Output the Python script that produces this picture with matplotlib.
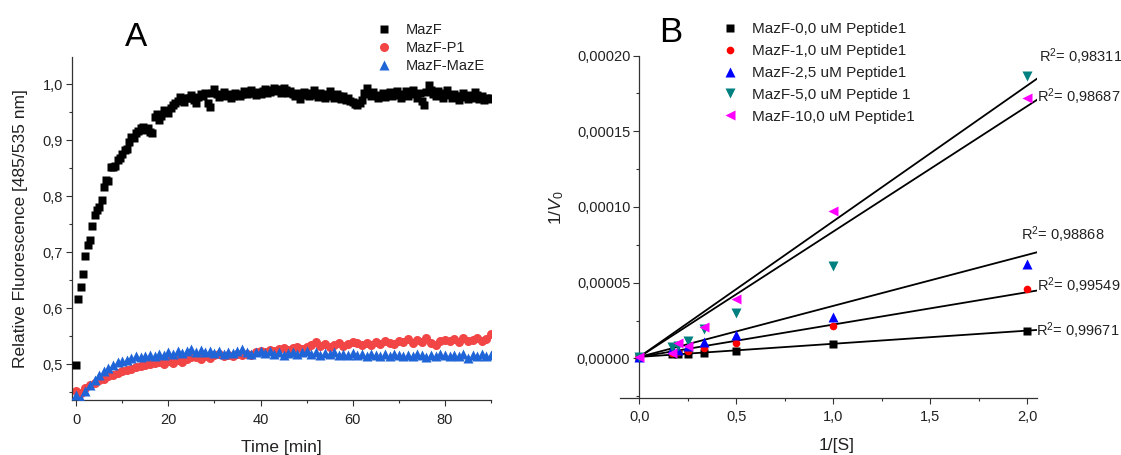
import numpy as np
import matplotlib
matplotlib.use("Agg")
import matplotlib.pyplot as plt
from matplotlib.ticker import FuncFormatter, MultipleLocator
from matplotlib.lines import Line2D

plt.rcParams['font.family'] = ['Liberation Sans', 'DejaVu Sans']
plt.rcParams['mathtext.fontset'] = 'custom'
plt.rcParams['mathtext.rm'] = 'Liberation Sans'
plt.rcParams['mathtext.it'] = 'Liberation Sans:italic'
plt.rcParams['mathtext.bf'] = 'Liberation Sans:bold'

# ---------------- Panel A data ----------------
time_mazf = np.arange(0, 90.01, 0.5)
mazf = [
    0.498, 0.616, 0.637, 0.661, 0.693, 0.712, 0.722, 0.746, 0.766, 0.776,
    0.781, 0.793, 0.817, 0.829, 0.827, 0.852, 0.852, 0.853, 0.864, 0.869,
    0.876, 0.882, 0.885, 0.897, 0.906, 0.903, 0.912, 0.916, 0.921, 0.923,
    0.918, 0.921, 0.915, 0.913, 0.942, 0.946, 0.936, 0.944, 0.954, 0.951,
    0.948, 0.957, 0.962, 0.966, 0.970, 0.977, 0.973, 0.968, 0.975, 0.976,
    0.980, 0.972, 0.966, 0.977, 0.983, 0.978, 0.985, 0.966, 0.959, 0.985,
    0.992, 0.983, 0.977, 0.980, 0.986, 0.978, 0.982, 0.976, 0.979, 0.984,
    0.981, 0.978, 0.983, 0.987, 0.982, 0.985, 0.989, 0.984, 0.981, 0.986,
    0.983, 0.988, 0.991, 0.984, 0.986, 0.990, 0.993, 0.987, 0.991, 0.985,
    0.993, 0.990, 0.984, 0.987, 0.982, 0.979, 0.984, 0.974, 0.981, 0.986,
    0.982, 0.978, 0.984, 0.990, 0.981, 0.977, 0.985, 0.980, 0.975, 0.982,
    0.987, 0.979, 0.976, 0.983, 0.978, 0.974, 0.979, 0.972, 0.976, 0.970,
    0.968, 0.965, 0.962, 0.967, 0.971, 0.985, 0.994, 0.983, 0.978, 0.986,
    0.980, 0.975, 0.979, 0.984, 0.977, 0.981, 0.986, 0.979, 0.983, 0.988,
    0.980, 0.976, 0.983, 0.987, 0.979, 0.985, 0.990, 0.982, 0.976, 0.984,
    0.970, 0.963, 0.986, 0.998, 0.990, 0.983, 0.978, 0.987, 0.981, 0.976,
    0.984, 0.989, 0.980, 0.975, 0.983, 0.978, 0.972, 0.979, 0.985, 0.977,
    0.973, 0.981, 0.976, 0.986, 0.980, 0.974, 0.978, 0.971, 0.976, 0.973,
    0.975,
]

time_p = np.arange(0, 91, 1)
mazf_p1 = [
    0.452, 0.449, 0.457, 0.462, 0.466, 0.471, 0.474, 0.479, 0.481, 0.485,
    0.487, 0.490, 0.492, 0.495, 0.496, 0.499, 0.500, 0.502, 0.503, 0.500,
    0.505, 0.502, 0.507, 0.504, 0.510, 0.512, 0.513, 0.509, 0.514, 0.511,
    0.516, 0.518, 0.515, 0.517, 0.514, 0.518, 0.516, 0.519, 0.517, 0.521,
    0.524, 0.522, 0.526, 0.523, 0.527, 0.528, 0.525, 0.529, 0.531, 0.527,
    0.530, 0.534, 0.539, 0.533, 0.536, 0.531, 0.535, 0.537, 0.533, 0.536,
    0.540, 0.538, 0.534, 0.538, 0.535, 0.539, 0.536, 0.541, 0.538, 0.536,
    0.541, 0.539, 0.545, 0.537, 0.543, 0.540, 0.546, 0.538, 0.535, 0.542,
    0.543, 0.541, 0.545, 0.539, 0.546, 0.542, 0.544, 0.547, 0.542, 0.545,
    0.553,
]
mazf_maze = [
    0.445, 0.437, 0.452, 0.463, 0.472, 0.480, 0.488, 0.494, 0.499, 0.503,
    0.506, 0.508, 0.511, 0.514, 0.512, 0.515, 0.517, 0.514, 0.519, 0.517,
    0.521, 0.518, 0.524, 0.520, 0.523, 0.527, 0.522, 0.525, 0.521, 0.524,
    0.520, 0.523, 0.519, 0.522, 0.520, 0.524, 0.527, 0.521, 0.519, 0.522,
    0.524, 0.520, 0.523, 0.519, 0.521, 0.516, 0.520, 0.522, 0.518, 0.521,
    0.523, 0.519, 0.521, 0.517, 0.520, 0.518, 0.521, 0.516, 0.519, 0.517,
    0.520, 0.516, 0.518, 0.515, 0.519, 0.517, 0.514, 0.518, 0.515, 0.519,
    0.516, 0.514, 0.517, 0.515, 0.518, 0.516, 0.513, 0.517, 0.515, 0.519,
    0.516, 0.514, 0.517, 0.515, 0.518, 0.511, 0.516, 0.514, 0.518, 0.515,
    0.517,
]
labels_a = ["MazF", "MazF-P1", "MazF-MazE"]

# ---------------- Panel B data ----------------
inv_s = [0.0, 0.1667, 0.2, 0.25, 0.3333, 0.5, 1.0, 2.0]
inv_v0 = {
    "MazF-0,0 uM Peptide1":  [1.2e-6, 2.8e-6, 3.2e-6, 3.0e-6, 3.8e-6, 5.0e-6, 9.4e-6, 1.84e-5],
    "MazF-1,0 uM Peptide1":  [1.2e-6, 3.5e-6, 4.5e-6, 5.2e-6, 6.7e-6, 1.04e-5, 2.17e-5, 4.59e-5],
    "MazF-2,5 uM Peptide1":  [1.2e-6, 6.0e-6, 5.6e-6, 8.3e-6, 1.11e-5, 1.55e-5, 2.76e-5, 6.22e-5],
    "MazF-5,0 uM Peptide 1": [1.2e-6, 7.8e-6, 8.0e-6, 1.18e-5, 1.93e-5, 3.03e-5, 6.13e-5, 1.866e-4],
    "MazF-10,0 uM Peptide1": [1.2e-6, 3.5e-6, 1.0e-5, 8.5e-6, 2.1e-5, 3.93e-5, 9.76e-5, 1.719e-4],
}
fit_slope = [8.68e-6, 2.137e-5, 3.37e-5, 8.96e-5, 8.28e-5]
fit_intercept = [1.0e-6, 1.0e-6, 1.0e-6, 1.0e-6, 1.0e-6]
r_squared = ["0,99671", "0,99549", "0,98868", "0,98311", "0,98687"]
fit_x_range = [0.0, 2.05]

colors_b = ["#000000", "#ff0000", "#0000ff", "#008080", "#ff00ff"]
markers_b = ["s", "o", "^", "v", "<"]

TXT = "#222222"

def comma_fmt(decimals):
    return FuncFormatter(lambda v, p: f"{v:.{decimals}f}".replace(".", ","))

fig = plt.figure(figsize=(11.21, 4.55), dpi=100)

# ---------------- Panel A ----------------
axA = fig.add_axes([72/1121, 55/455, 419/1121, 343.3/455])
axA.plot(time_p, mazf_p1, linestyle="none", marker="o", ms=6.5, color="#f24545", mec="none", zorder=2)
axA.plot(time_p, mazf_maze, linestyle="none", marker="^", ms=7.5, color="#1f65d8", mec="none", zorder=3)
axA.plot(time_mazf, mazf, linestyle="none", marker="s", ms=5.3, color="#000000", mec="none", zorder=4)
axA.set_xlim(-0.9, 90)
axA.set_ylim(0.436, 1.049)
axA.xaxis.set_major_locator(MultipleLocator(20))
axA.xaxis.set_minor_locator(MultipleLocator(10))
axA.yaxis.set_major_locator(MultipleLocator(0.1))
axA.yaxis.set_minor_locator(MultipleLocator(0.05))
axA.xaxis.set_major_formatter(comma_fmt(0))
axA.yaxis.set_major_formatter(comma_fmt(1))
axA.set_xlabel("Time [min]", fontsize=12.5, color=TXT)
axA.set_ylabel("Relative Fluorescence [485/535 nm]", fontsize=12.5, color=TXT)
axA.xaxis.set_label_coords(0.5, -0.117)
axA.yaxis.set_label_coords(-0.105, 0.5)

handles_a = [
    Line2D([], [], linestyle="none", marker="s", ms=5.5, color="#000000", mec="none"),
    Line2D([], [], linestyle="none", marker="o", ms=6.5, color="#f24545", mec="none"),
    Line2D([], [], linestyle="none", marker="^", ms=7, color="#1f65d8", mec="none"),
]
legA = fig.legend(handles_a, labels_a, loc="upper left", bbox_to_anchor=(375/1121, 1 - 23/455),
                  frameon=False, fontsize=10.5, handlelength=1.2, handletextpad=0.9,
                  labelspacing=0.27, borderpad=0, borderaxespad=0)
for t in legA.get_texts():
    t.set_color(TXT)
fig.text(136/1121, 1 - 38/455, "A", fontsize=24, ha="center", va="center", color="#000000")

# ---------------- Panel B ----------------
axB = fig.add_axes([620/1121, 57.5/455, 417/1121, 342/455])
for i, (name, vals) in enumerate(inv_v0.items()):
    axB.plot(inv_s, vals, linestyle="none", marker=markers_b[i], ms=5.5 if markers_b[i] in "so" else 6.5,
             color=colors_b[i], mec="none", label=name, zorder=3)
xf = np.array(fit_x_range)
for i in range(len(fit_slope)):
    axB.plot(xf, fit_intercept[i] + fit_slope[i] * xf, color="#000000", lw=1.3, zorder=2)

axB.set_xlim(-0.1, 2.05)
axB.set_ylim(-2.58e-5, 2.0e-4)
axB.spines["left"].set_position(("data", 0))
axB.xaxis.set_major_locator(MultipleLocator(0.5))
axB.xaxis.set_minor_locator(MultipleLocator(0.25))
axB.yaxis.set_major_locator(MultipleLocator(5e-5))
axB.yaxis.set_minor_locator(MultipleLocator(2.5e-5))
axB.xaxis.set_major_formatter(comma_fmt(1))
axB.yaxis.set_major_formatter(comma_fmt(5))
axB.set_xlabel("1/[S]", fontsize=12.5, color=TXT)
axB.set_ylabel("1/$\\it{V}_0$", fontsize=12.5, color=TXT)
axB.xaxis.set_label_coords(0.52, -0.117)
axB.yaxis.set_label_coords(-0.13, 0.555)

# R^2 labels: (x, y) in data coords
r2_pos = [(2.044, 1.82e-5), (2.052, 4.79e-5), (1.966, 8.16e-5), (2.062, 1.991e-4), (2.052, 1.727e-4)]
for (px, py), r in zip(r2_pos, r_squared):
    axB.text(px, py, "R$^2$= " + r, fontsize=10.5, ha="left", va="center", color=TXT, clip_on=False)

hB, lB = axB.get_legend_handles_labels()
legB = fig.legend(hB, lB, loc="upper left", bbox_to_anchor=(721/1121, 1 - 22/455),
                  frameon=False, fontsize=11, handlelength=1.2, handletextpad=0.8,
                  labelspacing=0.52, borderpad=0, borderaxespad=0)
for t in legB.get_texts():
    t.set_color(TXT)
fig.text(671/1121, 1 - 33/455, "B", fontsize=25, ha="center", va="center", color="#000000")

for ax in (axA, axB):
    ax.spines["top"].set_visible(False)
    ax.spines["right"].set_visible(False)
    for s in ("left", "bottom"):
        ax.spines[s].set_linewidth(0.9)
        ax.spines[s].set_color("#333333")
    ax.tick_params(which="major", direction="out", length=4, width=0.8, colors="#333333",
                   labelsize=10.5, labelcolor=TXT)
    ax.tick_params(which="minor", direction="out", length=2.5, width=0.8, colors="#333333")
    ax.tick_params(axis="x", which="major", pad=5)
    ax.tick_params(axis="y", which="major", pad=2.5)
    ax.patch.set_visible(False)

fig.savefig("out.png", dpi=100)
